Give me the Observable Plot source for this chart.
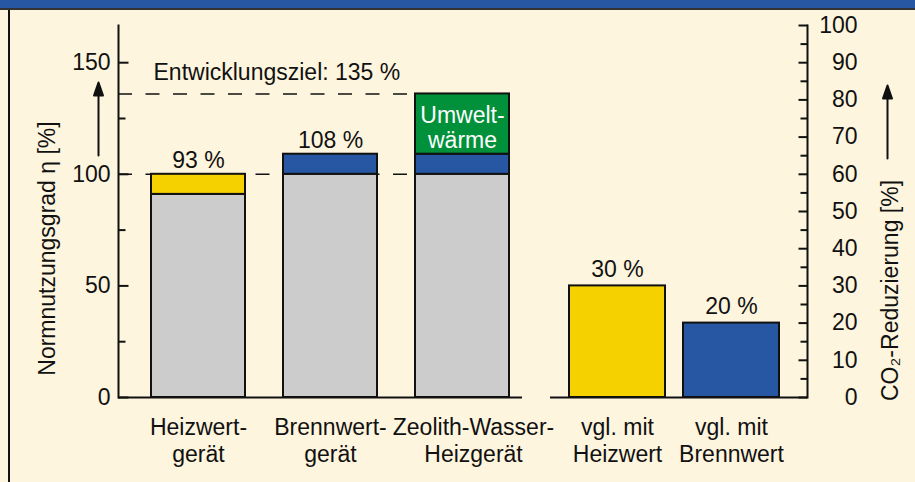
<!DOCTYPE html>
<html><head><meta charset="utf-8">
<script src="https://cdn.jsdelivr.net/npm/d3@7"></script>
<script src="https://cdn.jsdelivr.net/npm/@observablehq/plot@0.6"></script>
<style>
body{margin:0;background:#FEF5DE;}
#wrap{position:relative;width:915px;height:482px;background:#FEF5DE;overflow:hidden;}
#topbar{position:absolute;left:0;top:0;width:915px;height:8px;background:#2757A3;border-bottom:2px solid #333;z-index:2;}
#leftborder{position:absolute;left:8px;top:10px;width:2px;height:472px;background:#111;z-index:2;}
#wrap svg{position:absolute;left:0;top:0;}
</style></head>
<body><div id="wrap"><div id="topbar"></div><div id="leftborder"></div></div>
<script>
// ---- data ----
const leftCategories = ["Heizwert-\ngerät", "Brennwert-\ngerät", "Zeolith-Wasser-\nHeizgerät"];
const fuelShare = [91, 100, 100];
const gainShare = [9, 9, 9];
const ambientShare = [0, 0, 27];
const gainColors = ["#F5D100", "#2757A3", "#2757A3"];
const efficiencyLabels = ["93 %", "108 %", ""];
const ambientLabel = "Umwelt-\nwärme";
const referenceLevel = 100;
const targetLevel = 136;
const targetLabel = "Entwicklungsziel: 135 %";
const leftMajorTicks = [0, 50, 100, 150];
const leftMinorTicks = [25, 75, 125];
const leftTitle = "Normnutzungsgrad η [%]";

const rightCategories = ["vgl. mit\nHeizwert", "vgl. mit\nBrennwert"];
const co2Reduction = [30, 20];
const co2Colors = ["#F5D100", "#2757A3"];
const co2Labels = ["30 %", "20 %"];
const rightMajorTicks = [0, 10, 20, 30, 40, 50, 60, 70, 80, 90, 100];
const rightMinorTicks = [5, 15, 25, 35, 45, 55, 65, 75, 85, 95];
const rightTitle = "CO₂-Reduzierung [%]";

// ---- tables ----
const GRAY = "#CCCCCC", GREEN = "#00913A", INK = "#111111";
const segments = [];
leftCategories.forEach((c, i) => {
  let acc = 0;
  [[fuelShare[i], GRAY], [gainShare[i], gainColors[i]], [ambientShare[i], GREEN]].forEach(([v, col]) => {
    if (v > 0) segments.push({cat: c, y1: acc, y2: acc + v, color: col});
    acc += v;
  });
});
const leftLabelRows = leftCategories.map((c, i) => ({cat: c, v: fuelShare[i] + gainShare[i], t: efficiencyLabels[i]})).filter(d => d.t);
const ambientRows = leftCategories.map((c, i) => ({cat: c, v: fuelShare[i] + gainShare[i] + ambientShare[i] / 2, a: ambientShare[i]})).filter(d => d.a > 0);
const rightRows = rightCategories.map((c, i) => ({cat: c, value: co2Reduction[i], color: co2Colors[i], t: co2Labels[i]}));

const FONT = '"Liberation Sans", Arial, sans-serif';
const W = 915, H = 482, TOP = 25, BOTTOM = 85;
const style = {background: "transparent", fontFamily: FONT, fontSize: "23px", color: INK, overflow: "visible"};
const arrowShape = {draw(ctx, l) {
  ctx.moveTo(0, 0); ctx.lineTo(0, -l + 11);
  ctx.moveTo(-4.5, -l + 13); ctx.lineTo(0, -l); ctx.lineTo(4.5, -l + 13); ctx.closePath();
}};
const tickShape = {draw(ctx, l) { ctx.moveTo(0, 0); ctx.lineTo(0, -l); }};
const tickOpts = {shape: tickShape, anchor: "start", stroke: INK, strokeWidth: 2, strokeLinecap: "butt"};

const left = Plot.plot({
  width: W, height: H, marginLeft: 118, marginRight: W - 509, marginTop: TOP, marginBottom: BOTTOM,
  style,
  color: {type: "identity"},
  x: {domain: leftCategories, paddingInner: 0.288, paddingOuter: 0.125, align: 1},
  y: {domain: [0, 500 / 3]},
  marks: [
    Plot.ruleY([referenceLevel, targetLevel], {stroke: INK, strokeWidth: 1.6, strokeDasharray: "14,13.5"}),
    Plot.barY(segments, {x: "cat", y1: "y1", y2: "y2", fill: "color", stroke: INK, strokeWidth: 2}),
    Plot.ruleY([0], {stroke: INK, strokeWidth: 2, insetRight: -13}),
    Plot.frame({anchor: "left", stroke: INK, strokeWidth: 2}),
    Plot.vector(leftMajorTicks, {y: d => d, frameAnchor: "left", length: 10, rotate: 90, ...tickOpts}),
    Plot.vector(leftMinorTicks, {y: d => d, frameAnchor: "left", length: 7, rotate: 90, ...tickOpts}),
    Plot.axisY({ticks: leftMajorTicks, tickSize: 0, tickPadding: 8, label: null, tickFormat: d => String(d)}),
    Plot.axisX({ticks: leftCategories.slice(0, 2), tickSize: 0, tickPadding: 18, lineHeight: 1.17, label: null}),
    Plot.axisX({ticks: leftCategories.slice(2), tickSize: 0, tickPadding: 18, lineHeight: 1.17, label: null, dx: 11}),
    Plot.text(leftLabelRows, {x: "cat", y: "v", text: "t", lineAnchor: "bottom", dy: -6, fill: INK}),
    Plot.text(ambientRows, {x: "cat", y: "v", text: () => ambientLabel, lineAnchor: "middle", lineHeight: 1.1, dy: 3, fill: "white"}),
    Plot.text([{v: targetLevel, t: targetLabel}], {y: "v", text: "t", frameAnchor: "left", textAnchor: "start", lineAnchor: "bottom", dx: 35, dy: -14, fill: INK}),
    Plot.text([leftTitle], {text: d => d, frameAnchor: "left", textAnchor: "middle", lineAnchor: "middle", rotate: -90, dx: -71, dy: 37, fill: INK}),
    Plot.vector([null], {frameAnchor: "left", length: 73, anchor: "middle", dx: -20, dy: -92.5, shape: arrowShape, stroke: INK, fill: INK, strokeWidth: 2})
  ]
});

const right = Plot.plot({
  width: W, height: H, marginLeft: 550, marginRight: W - 807, marginTop: TOP, marginBottom: BOTTOM,
  style,
  color: {type: "identity"},
  x: {domain: rightCategories, paddingInner: 0.162, paddingOuter: 0.208, align: 0.4},
  y: {domain: [0, 100]},
  marks: [
    Plot.barY(rightRows, {x: "cat", y: "value", fill: "color", stroke: INK, strokeWidth: 2}),
    Plot.ruleY([0], {stroke: INK, strokeWidth: 2}),
    Plot.frame({anchor: "right", stroke: INK, strokeWidth: 2}),
    Plot.vector(rightMajorTicks, {y: d => d, frameAnchor: "right", length: 9, rotate: -90, ...tickOpts}),
    Plot.vector(rightMinorTicks, {y: d => d, frameAnchor: "right", length: 7, rotate: -90, ...tickOpts}),
    Plot.axisY({anchor: "right", ticks: rightMajorTicks, tickSize: 0, tickPadding: 50, textAnchor: "end", label: null, tickFormat: d => String(d)}),
    Plot.axisX({tickSize: 0, tickPadding: 18, lineHeight: 1.17, label: null}),
    Plot.text(rightRows, {x: "cat", y: "value", text: "t", lineAnchor: "bottom", dy: -9, fill: INK}),
    Plot.text([rightTitle], {text: d => d, frameAnchor: "right", textAnchor: "middle", lineAnchor: "middle", rotate: -90, dx: 83, dy: 79, fill: INK}),
    Plot.vector([null], {frameAnchor: "right", length: 73, anchor: "middle", dx: 80, dy: -89.5, shape: arrowShape, stroke: INK, fill: INK, strokeWidth: 2})
  ]
});

const wrap = document.getElementById("wrap");
wrap.appendChild(left);
wrap.appendChild(right);
</script>
</body></html>
